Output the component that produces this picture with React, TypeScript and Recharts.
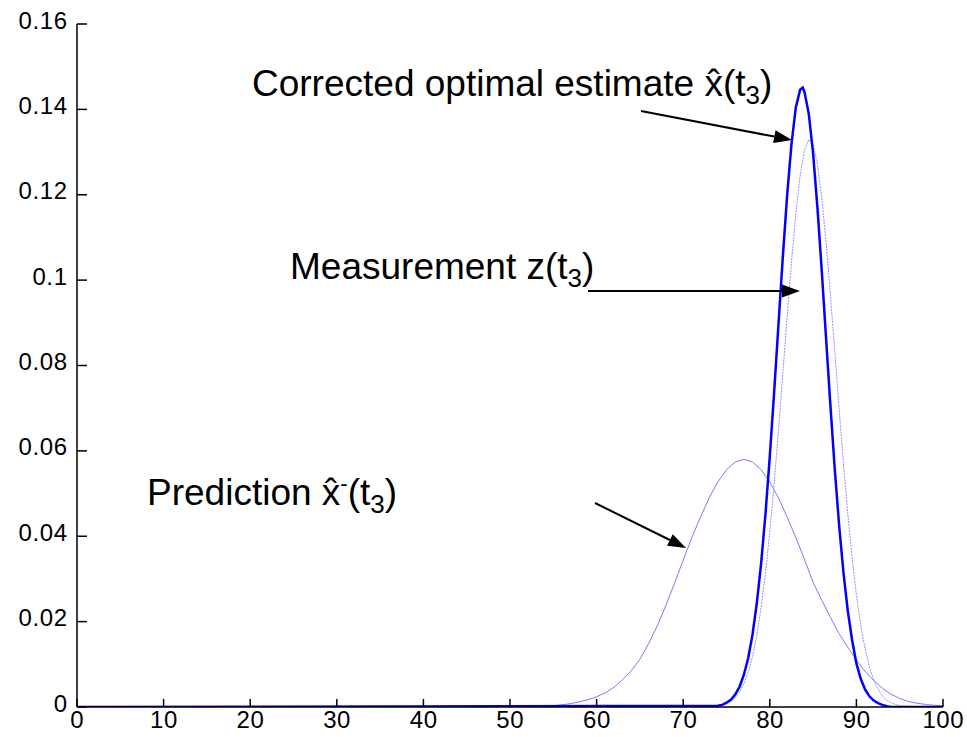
import React from 'react';
import { LineChart, Line, XAxis, YAxis } from 'recharts';

// ---- data ----
const xTicks = [0, 10, 20, 30, 40, 50, 60, 70, 80, 90, 100];
const yTicks = [0, 0.02, 0.04, 0.06, 0.08, 0.1, 0.12, 0.14, 0.16];
const yTickLabels = ['0', '0.02', '0.04', '0.06', '0.08', '0.1', '0.12', '0.14', '0.16'];

// Prediction  x^-(t3)
const predX = [0, 52, 53, 54, 55, 56, 57, 58, 59, 60, 61, 62, 63, 64, 65, 66, 67, 68, 69, 70, 71, 72, 73, 74, 75, 76, 77, 78, 79, 80, 81, 82, 83, 84, 85, 86, 87, 88, 89, 90, 91, 92, 93, 94, 95, 96, 97, 98, 99, 100];
const predY = [0, 0, 0.0001, 0.0002, 0.0003, 0.0005, 0.0008, 0.0012, 0.0017, 0.0024, 0.0033, 0.0046, 0.0064, 0.0085, 0.0112, 0.0148, 0.019, 0.0238, 0.029, 0.0344, 0.0397, 0.0445, 0.049, 0.0527, 0.0556, 0.0574, 0.058, 0.0574, 0.0556, 0.0527, 0.049, 0.0445, 0.0397, 0.0346, 0.0292, 0.025, 0.021, 0.0172, 0.014, 0.011, 0.0084, 0.0062, 0.0044, 0.003, 0.002, 0.0013, 0.0009, 0.0006, 0.0004, 0.0003];

// Measurement z(t3)
const measX = [0, 72, 73, 74, 74.5, 75, 75.5, 76, 76.5, 77, 77.5, 78, 78.5, 79, 79.5, 80, 80.5, 81, 81.5, 82, 82.5, 83, 83.5, 84, 84.5, 85, 85.5, 86, 86.5, 87, 87.5, 88, 88.5, 89, 89.5, 90, 90.5, 91, 91.5, 92, 92.5, 93, 93.5, 94, 94.5, 95, 96, 97, 100];
const measY = [0, 0, 0.0001, 0.0003, 0.0005, 0.0008, 0.0013, 0.0022, 0.0035, 0.0054, 0.0081, 0.0118, 0.0168, 0.0233, 0.0313, 0.041, 0.0523, 0.0647, 0.078, 0.0914, 0.1041, 0.1154, 0.1244, 0.1304, 0.1329, 0.1318, 0.1272, 0.1193, 0.1088, 0.0966, 0.0834, 0.07, 0.0571, 0.0454, 0.035, 0.0263, 0.0192, 0.0137, 0.0094, 0.0063, 0.0042, 0.0026, 0.0016, 0.001, 0.0006, 0.0003, 0.0001, 0, 0];

// Corrected optimal estimate x^(t3)
const corrX = [0, 74, 74.5, 75, 75.5, 76, 76.5, 77, 77.5, 78, 78.5, 79, 79.5, 80, 80.5, 81, 81.5, 82, 82.5, 83, 83.5, 83.8, 84, 84.5, 85, 85.5, 86, 86.5, 87, 87.5, 88, 88.5, 89, 89.5, 90, 90.5, 91, 91.5, 92, 92.5, 93, 93.5, 94, 100];
const corrY = [0, 0.0003, 0.0005, 0.001, 0.0017, 0.0029, 0.0047, 0.0075, 0.0114, 0.0169, 0.0243, 0.0337, 0.0452, 0.0587, 0.0737, 0.0896, 0.1053, 0.1198, 0.1318, 0.1404, 0.1446, 0.1451, 0.1441, 0.139, 0.1297, 0.117, 0.1022, 0.0863, 0.0706, 0.0558, 0.0427, 0.0316, 0.0226, 0.0157, 0.0102, 0.0066, 0.0041, 0.0025, 0.0015, 0.0009, 0.0005, 0.0002, 0, 0];

const toPoints = (xs: number[], ys: number[]) => xs.map((x, i) => ({ x, y: ys[i] }));
const predData = toPoints(predX, predY);
const measData = toPoints(measX, measY);
const corrData = toPoints(corrX, corrY);

const TICK_FONT = '"Liberation Sans", Arial, Helvetica, sans-serif';
const TEXT_FONT = '"Liberation Sans", Arial, Helvetica, sans-serif';
const LS = 0.6;

function XTick(props: any) {
  const { x, y, payload } = props;
  return (
    <g>
      <line x1={x} y1={y} x2={x} y2={y - 8} stroke="#000" strokeWidth={1.5} />
      <text x={x + LS / 2} y={y + 21} textAnchor="middle" fontFamily={TICK_FONT} fontSize={24} letterSpacing={LS} fill="#000">
        {payload.value}
      </text>
    </g>
  );
}

function YTick(props: any) {
  const { x, y, payload } = props;
  const idx = yTicks.indexOf(payload.value);
  const label = idx >= 0 ? yTickLabels[idx] : String(payload.value);
  return (
    <g>
      <line x1={x} y1={y} x2={x + 10} y2={y} stroke="#000" strokeWidth={1.5} />
      <text x={x - 10 + LS} y={y + 4.5} textAnchor="end" fontFamily={TICK_FONT} fontSize={24} letterSpacing={LS} fill="#000">
        {label}
      </text>
    </g>
  );
}

function Arrow({ x1, y1, x2, y2 }: { x1: number; y1: number; x2: number; y2: number }) {
  const len = 18;
  const half = 6.5;
  const a = Math.atan2(y2 - y1, x2 - x1);
  const bx = x2 - len * Math.cos(a);
  const by = y2 - len * Math.sin(a);
  const px = -Math.sin(a) * half;
  const py = Math.cos(a) * half;
  return (
    <g>
      <line x1={x1} y1={y1} x2={bx} y2={by} stroke="#000" strokeWidth={2} />
      <polygon points={`${x2},${y2} ${bx + px},${by + py} ${bx - px},${by - py}`} fill="#000" />
    </g>
  );
}

export default function App() {
  return (
    <div style={{ position: 'fixed', left: 0, top: 0, width: 967, height: 737, background: '#fff' }}>
      <LineChart width={967} height={737} margin={{ top: 24, right: 24, bottom: 0, left: 0 }}>
        <XAxis
          dataKey="x"
          type="number"
          domain={[0, 100]}
          ticks={xTicks}
          interval={0}
          height={30}
          tickSize={0}
          tickMargin={0}
          tickLine={false}
          axisLine={{ stroke: '#000', strokeWidth: 1.5 }}
          tick={<XTick />}
          allowDataOverflow
        />
        <YAxis
          type="number"
          domain={[0, 0.16]}
          ticks={yTicks}
          interval={0}
          width={77}
          tickSize={0}
          tickMargin={0}
          tickLine={false}
          axisLine={{ stroke: '#000', strokeWidth: 1.5 }}
          tick={<YTick />}
          allowDataOverflow
        />
        <Line data={predData} dataKey="y" type="linear" stroke="#7a7aff" strokeWidth={1} dot={false} isAnimationActive={false} />
        <Line data={measData} dataKey="y" type="linear" stroke="#8f8fff" strokeWidth={1} strokeDasharray="2 1" dot={false} isAnimationActive={false} />
        <Line data={corrData} dataKey="y" type="linear" stroke="#0000ff" strokeWidth={2.5} dot={false} isAnimationActive={false} />
      </LineChart>
      <svg width={967} height={737} style={{ position: 'absolute', left: 0, top: 0, pointerEvents: 'none' }}>
        <text x={252} y={96} fontFamily={TEXT_FONT} fontSize={37} fill="#000">
          Corrected optimal estimate x̂(t<tspan fontSize={26} dy={8}>3</tspan><tspan dy={-8}>)</tspan>
        </text>
        <Arrow x1={641} y1={111} x2={792} y2={140} />
        <text x={290} y={279} fontFamily={TEXT_FONT} fontSize={37} fill="#000">
          Measurement z(t<tspan fontSize={26} dy={8}>3</tspan><tspan dy={-8}>)</tspan>
        </text>
        <Arrow x1={588} y1={291} x2={800} y2={291} />
        <text x={147} y={505} fontFamily={TEXT_FONT} fontSize={37} fill="#000">
          Prediction x̂<tspan fontSize={22} dy={-14}>-</tspan><tspan dy={14}>(t</tspan><tspan fontSize={26} dy={8}>3</tspan><tspan dy={-8}>)</tspan>
        </text>
        <Arrow x1={595} y1={503} x2={686} y2={548} />
      </svg>
    </div>
  );
}
